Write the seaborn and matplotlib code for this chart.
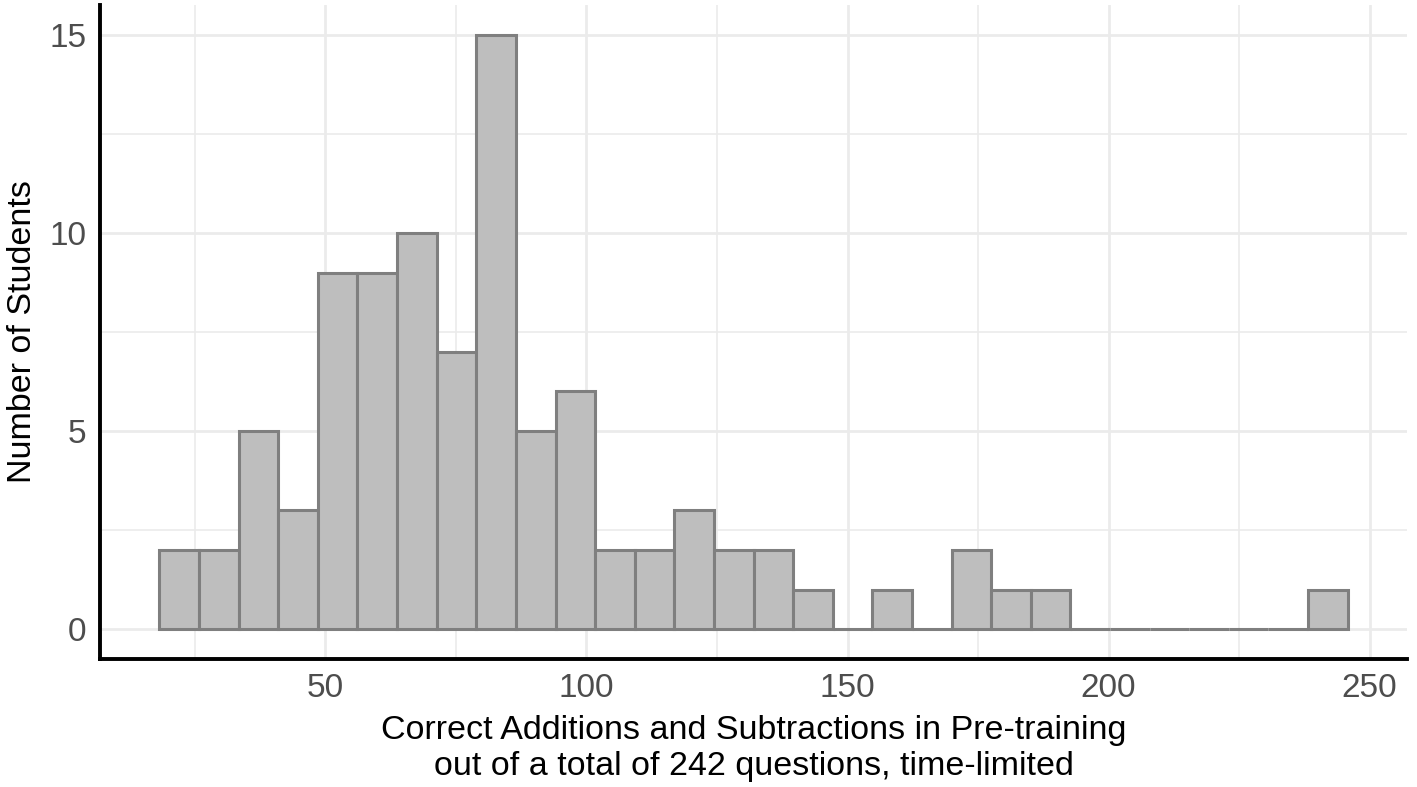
import numpy as np
import pandas as pd
import matplotlib
matplotlib.use("Agg")
import matplotlib.pyplot as plt
import seaborn as sns
from matplotlib.ticker import MultipleLocator

# histogram counts (30 bins)
counts = [2, 2, 5, 3, 9, 9, 10, 7, 15, 5, 6, 2, 2, 3, 2, 2, 1, 0, 1, 0,
          2, 1, 1, 0, 0, 0, 0, 0, 0, 1]
score_min = 22
score_max = 242
n_bins = 30

bin_w = (score_max - score_min) / (n_bins - 1)
lo = score_min - bin_w / 2
hi = score_max + bin_w / 2
centers = lo + bin_w * (np.arange(n_bins) + 0.5)
df = pd.DataFrame({"score": centers, "n": counts})

sns.set_style("white")
plt.rcParams["font.family"] = ["Liberation Sans", "DejaVu Sans"]

fig = plt.figure(figsize=(14.17, 7.87), dpi=100)
ax = fig.add_axes([0.0706, 0.1626, 0.9224, 0.831])

sns.histplot(data=df, x="score", weights="n", bins=n_bins, binrange=(lo, hi), ax=ax,
             color="#BEBEBE", edgecolor="#7F7F7F", linewidth=2.2, alpha=1)

pad = 0.05 * (hi - lo)
ax.set_xlim(lo - pad, hi + pad)
ax.set_ylim(-0.75, 15.75)
ax.xaxis.set_major_locator(MultipleLocator(50))
ax.xaxis.set_minor_locator(MultipleLocator(25))
ax.yaxis.set_major_locator(MultipleLocator(5))
ax.yaxis.set_minor_locator(MultipleLocator(2.5))
ax.grid(True, which="major", color="#EBEBEB", linewidth=2)
ax.grid(True, which="minor", color="#EBEBEB", linewidth=1.2)
ax.set_axisbelow(True)

for s in ["top", "right"]:
    ax.spines[s].set_visible(False)
for s in ["left", "bottom"]:
    ax.spines[s].set_color("black")
    ax.spines[s].set_linewidth(2.8)

ax.tick_params(which="major", length=7, width=2, color="#333333",
               labelsize=24, labelcolor="#4D4D4D", pad=3)
ax.tick_params(which="minor", length=0)

ax.set_xlabel("Correct Additions and Subtractions in Pre-training\nout of a total of 242 questions, time-limited",
              fontsize=24.5, color="black", labelpad=8, linespacing=1.2)
ax.set_ylabel("Number of Students", fontsize=24.5, color="black", labelpad=8)

fig.savefig("out.png", dpi=100)
